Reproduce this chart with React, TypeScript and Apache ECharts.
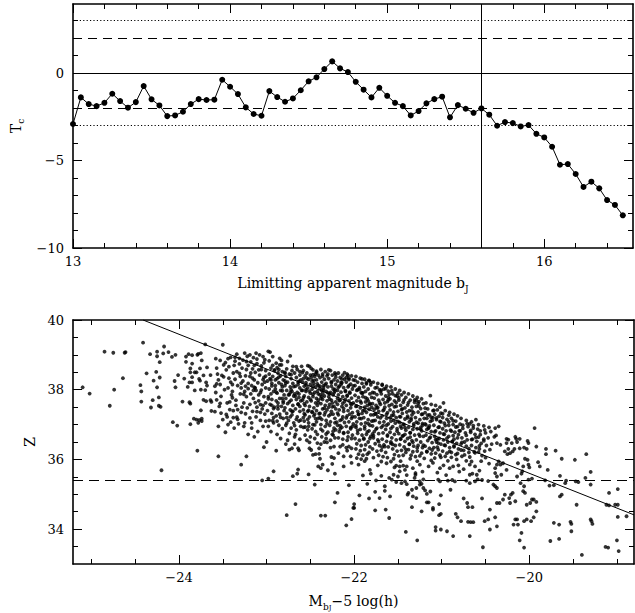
import React, { useEffect, useRef } from 'react';
import * as echarts from 'echarts';

// ---------- Top panel data ----------
const magnitudes = [
  13.0, 13.05, 13.1, 13.15, 13.2, 13.25, 13.3, 13.35, 13.4, 13.45, 13.5, 13.55, 13.6, 13.65, 13.7, 13.75,
  13.8, 13.85, 13.9, 13.95, 14.0, 14.05, 14.1, 14.15, 14.2, 14.25, 14.3, 14.35, 14.4, 14.45, 14.5, 14.55,
  14.6, 14.65, 14.7, 14.75, 14.8, 14.85, 14.9, 14.95, 15.0, 15.05, 15.1, 15.15, 15.2, 15.25, 15.3, 15.35,
  15.4, 15.45, 15.5, 15.55, 15.6, 15.65, 15.7, 15.75, 15.8, 15.85, 15.9, 15.95, 16.0, 16.05, 16.1, 16.15,
  16.2, 16.25, 16.3, 16.35, 16.4, 16.45, 16.5,
];
const tcValues = [
  -2.91, -1.39, -1.77, -1.89, -1.7, -1.18, -1.6, -1.98, -1.66, -0.74, -1.5, -1.85, -2.46, -2.42, -2.21, -1.77,
  -1.49, -1.54, -1.52, -0.38, -0.78, -1.2, -1.96, -2.34, -2.44, -1.03, -1.37, -1.64, -1.45, -0.98, -0.47, -0.24,
  0.23, 0.67, 0.27, 0.06, -0.5, -0.95, -1.39, -0.84, -1.3, -1.7, -1.89, -2.42, -2.17, -1.73, -1.49, -1.35,
  -2.53, -1.83, -2.04, -2.27, -2.02, -2.38, -3.01, -2.8, -2.86, -3.05, -2.97, -3.47, -3.68, -4.21, -5.24, -5.2,
  -5.77, -6.51, -6.21, -6.59, -7.26, -7.54, -8.13,
];
const dottedLevels = [3, -3];
const dashedLevels = [2, -2];
const solidLevels = [0];
const cutMagnitude = 15.6;

const topXMajor = [13, 14, 15, 16];
const topXMinor = [13.2, 13.4, 13.6, 13.8, 14, 14.2, 14.4, 14.6, 14.8, 15, 15.2, 15.4, 15.6, 15.8, 16, 16.2, 16.4];
const topYMajor = [-10, -5, 0];
const topYMinor = [-9, -8, -7, -6, -5, -4, -3, -2, -1, 0, 1, 2, 3];

// ---------- Bottom panel data ----------
const botXMajor = [-24, -22, -20];
const botXMinor = [-25, -24.5, -24, -23.5, -23, -22.5, -22, -21.5, -21, -20.5, -20, -19.5, -19];
const botYMajor = [34, 36, 38, 40];
const botYMinor = [33.5, 34, 34.5, 35, 35.5, 36, 36.5, 37, 37.5, 38, 38.5, 39, 39.5];
const zLimit = 35.4;
const fitLine = [[-24.41, 40.0], [-18.805, 34.41]];

// sparse bright end (M, Z pairs)
const sparseLeft = [
  -25.10, 38.07, -25.02, 37.89, -24.85, 39.09, -24.75, 39.06, -24.62, 39.06, -24.61, 39.08, -24.64, 38.33, -24.74, 38.0,
  -24.79, 37.54, -24.41, 39.35, -24.33, 39.02, -24.25, 39.09, -24.25, 38.96, -24.18, 39.04, -24.12, 39.08, -24.17, 39.24,
  -24.08, 38.94, -24.04, 39.0, -24.22, 38.79, -24.37, 38.47, -24.26, 38.51, -24.29, 38.26, -24.22, 38.35, -24.44, 38.13,
  -24.43, 37.95, -24.25, 38.07, -24.43, 37.66, -24.3, 37.7, -24.23, 37.78, -24.32, 37.49, -24.23, 37.54, -24.21, 37.51,
  -24.05, 38.25, -24.04, 38.07, -24.01, 38.42, -23.94, 38.32, -24.07, 37.07, -24.02, 36.97, -23.96, 37.66, -23.92, 38.95,
  -23.92, 38.8, -23.89, 39.02, -23.85, 38.99, -23.85, 38.75, -23.79, 39.0, -23.78, 39.03, -23.75, 39.05, -23.74, 38.84,
  -23.7, 39.3, -23.87, 38.61, -23.87, 38.5, -23.82, 38.5, -23.8, 38.5, -23.76, 38.61, -23.85, 38.36, -23.77, 38.31,
  -23.76, 38.26, -23.72, 38.41, -23.68, 38.64, -23.64, 38.42, -23.88, 38.21, -23.85, 38.21, -23.9, 38.08, -23.82, 37.98,
  -23.75, 38.0, -23.69, 38.21, -23.68, 38.12, -23.7, 37.99, -23.88, 37.64, -23.87, 37.6, -23.72, 37.71, -23.69, 37.67,
  -23.64, 37.7, -23.63, 37.65, -23.63, 37.39, -23.75, 37.41, -23.83, 37.17, -23.8, 37.14, -23.77, 37.13, -23.87, 37.01,
  -23.78, 37.05, -23.74, 37.17, -23.74, 37.1, -24.2, 35.69, -23.79, 36.25,
];

// dense cloud, M from -23.6 to -22.6
const denseLeft = [
  -23.58, 38.89, -23.53, 38.84, -23.47, 38.78, -23.46, 38.57, -23.5, 39.29, -23.59, 38.1, -23.57, 37.71, -23.54, 37.52,
  -23.52, 37.81, -23.48, 38.0, -23.45, 37.62, -23.42, 37.43, -23.5, 37.14, -23.55, 36.95, -23.44, 37.0, -23.56, 38.45,
  -23.43, 38.66, -23.41, 38.22, -23.55, 38.28, -23.49, 38.37, -23.44, 38.05, -23.58, 37.92, -23.4, 37.85, -23.52, 37.33,
  -23.47, 36.78, -23.41, 38.93, -23.57, 38.62, -23.45, 37.22, -23.53, 38.15, -23.42, 37.65,
  -23.38, 38.48, -23.34, 39.02, -23.25, 39.05, -23.22, 38.96, -23.31, 38.74, -23.28, 38.62, -23.36, 38.3, -23.24, 38.4,
  -23.33, 38.12, -23.27, 38.25, -23.21, 38.18, -23.39, 37.95, -23.3, 37.88, -23.23, 37.8, -23.35, 37.7, -23.26, 37.62,
  -23.38, 37.4, -23.29, 37.35, -23.22, 37.48, -23.33, 37.15, -23.25, 37.05, -23.37, 36.9, -23.21, 36.72, -23.31, 38.9,
  -23.27, 38.85, -23.37, 38.7, -23.23, 38.58, -23.34, 38.52, -23.29, 38.05, -23.25, 37.95, -23.35, 37.55, -23.21, 38.7,
  -23.39, 38.15, -23.32, 37.02, -23.28, 37.5, -23.24, 38.1, -23.36, 38.82, -23.3, 38.38, -23.26, 36.95, -23.38, 37.2,
  -23.12, 39.05, -23.08, 39.0, -23.19, 39.0, -23.15, 38.92, -23.04, 38.95, -23.02, 38.86, -23.18, 38.8, -23.11, 38.75,
  -23.06, 38.68, -23.16, 38.6, -23.01, 38.55, -23.13, 38.5, -23.08, 38.42, -23.19, 38.38, -23.03, 38.35, -23.14, 38.28,
  -23.1, 38.2, -23.05, 38.15, -23.17, 38.12, -23.01, 38.05, -23.12, 37.98, -23.07, 37.92, -23.18, 37.88, -23.03, 37.8,
  -23.15, 37.75, -23.09, 37.68, -23.01, 37.62, -23.19, 37.58, -23.11, 37.5, -23.05, 37.45, -23.16, 37.38, -23.02, 37.3,
  -23.12, 37.22, -23.07, 37.12, -23.17, 37.05, -23.04, 36.95, -23.1, 36.8, -23.14, 36.65, -23.06, 38.58, -23.13, 38.05,
  -23.09, 37.85, -23.02, 38.22, -23.18, 38.48, -23.07, 37.35, -23.15, 37.98, -23.11, 38.88, -23.04, 37.55, -23.17, 36.9,
  -23.01, 37.1, -23.14, 38.7,
  -22.96, 39.08, -22.98, 39.1, -22.93, 38.95, -22.89, 38.76, -22.85, 38.71, -22.83, 38.84, -22.95, 38.62, -22.91, 38.55,
  -22.87, 38.48, -22.82, 38.52, -22.97, 38.45, -22.93, 38.38, -22.88, 38.32, -22.84, 38.4, -22.81, 38.28, -22.99, 38.25,
  -22.94, 38.18, -22.9, 38.12, -22.86, 38.2, -22.82, 38.08, -22.97, 38.02, -22.92, 37.95, -22.88, 37.9, -22.84, 37.98,
  -22.8, 37.85, -22.98, 37.8, -22.94, 37.72, -22.89, 37.68, -22.85, 37.75, -22.81, 37.62, -22.96, 37.58, -22.91, 37.5,
  -22.87, 37.45, -22.83, 37.52, -22.99, 37.4, -22.94, 37.32, -22.89, 37.25, -22.85, 37.3, -22.81, 37.18, -22.97, 37.12,
  -22.92, 37.05, -22.86, 36.98, -22.82, 36.88, -22.95, 36.8, -22.88, 36.72, -22.84, 36.6, -22.93, 38.7, -22.86, 38.58,
  -22.9, 38.28, -22.83, 38.15, -22.95, 37.88, -22.87, 37.62, -22.8, 37.4, -22.92, 37.2, -22.98, 36.95, -22.85, 38.9,
  -22.9, 38.02, -22.82, 37.75, -22.94, 37.55, -22.88, 37.1, -22.96, 38.32,
  -22.73, 38.97, -22.7, 38.67, -22.77, 38.6, -22.65, 38.58, -22.79, 38.5, -22.74, 38.45, -22.68, 38.48, -22.62, 38.42,
  -22.78, 38.38, -22.72, 38.32, -22.66, 38.35, -22.61, 38.28, -22.76, 38.22, -22.7, 38.18, -22.64, 38.22, -22.79, 38.12,
  -22.73, 38.08, -22.67, 38.1, -22.62, 38.05, -22.77, 37.98, -22.71, 37.95, -22.65, 37.92, -22.6, 37.98, -22.75, 37.85,
  -22.69, 37.82, -22.63, 37.88, -22.78, 37.75, -22.72, 37.7, -22.66, 37.72, -22.61, 37.68, -22.76, 37.6, -22.7, 37.55,
  -22.64, 37.58, -22.79, 37.48, -22.73, 37.42, -22.67, 37.45, -22.62, 37.38, -22.77, 37.32, -22.71, 37.28, -22.65, 37.22,
  -22.75, 37.12, -22.69, 37.05, -22.63, 37.1, -22.78, 36.98, -22.72, 36.9, -22.66, 36.85, -22.61, 36.95, -22.74, 36.75,
  -22.68, 36.65, -22.62, 36.58, -22.76, 36.55, -22.71, 38.55, -22.64, 38.15, -22.68, 37.88, -22.74, 37.65, -22.62, 37.52,
  -22.7, 37.38, -22.66, 37.15, -22.6, 38.67, -22.79, 38.25, -22.73, 37.92, -22.63, 37.78, -22.77, 37.2, -22.67, 36.72,
  -22.72, 38.0,
];

// dense cloud, M from -22.6 to -21.6
const denseMid = [
  -22.51, 38.67, -22.47, 38.57, -22.58, 38.55, -22.54, 38.48, -22.43, 38.5, -22.56, 38.4, -22.5, 38.42, -22.45, 38.38,
  -22.41, 38.42, -22.58, 38.32, -22.52, 38.3, -22.48, 38.25, -22.43, 38.28, -22.55, 38.2, -22.5, 38.15, -22.46, 38.18,
  -22.41, 38.12, -22.57, 38.1, -22.53, 38.05, -22.48, 38.02, -22.44, 38.08, -22.59, 37.98, -22.55, 37.95, -22.5, 37.9,
  -22.45, 37.92, -22.41, 37.88, -22.57, 37.82, -22.52, 37.78, -22.47, 37.8, -22.43, 37.75, -22.59, 37.7, -22.54, 37.65,
  -22.49, 37.68, -22.44, 37.62, -22.56, 37.55, -22.51, 37.52, -22.46, 37.48, -22.42, 37.55, -22.58, 37.42, -22.53, 37.38,
  -22.48, 37.35, -22.43, 37.4, -22.56, 37.28, -22.51, 37.22, -22.46, 37.25, -22.41, 37.18, -22.57, 37.1, -22.52, 37.05,
  -22.47, 37.0, -22.43, 37.08, -22.58, 36.92, -22.53, 36.85, -22.48, 36.88, -22.44, 36.8, -22.56, 36.7, -22.5, 36.65,
  -22.45, 36.6, -22.42, 36.72, -22.54, 36.55, -22.49, 38.35, -22.55, 38.0, -22.42, 37.95, -22.5, 37.72, -22.57, 37.6,
  -22.45, 37.3, -22.53, 37.15, -22.47, 38.1, -22.59, 38.22, -22.44, 38.45, -22.52, 36.95, -22.41, 37.7, -22.58, 37.2,
  -22.38, 38.58, -22.33, 38.52, -22.27, 38.55, -22.22, 38.48, -22.36, 38.45, -22.31, 38.4, -22.25, 38.42, -22.21, 38.36,
  -22.39, 38.35, -22.34, 38.3, -22.29, 38.32, -22.23, 38.28, -22.37, 38.22, -22.32, 38.18, -22.26, 38.2, -22.21, 38.15,
  -22.39, 38.1, -22.35, 38.05, -22.3, 38.08, -22.24, 38.02, -22.37, 37.98, -22.32, 37.95, -22.27, 37.92, -22.22, 37.96,
  -22.39, 37.85, -22.34, 37.82, -22.29, 37.8, -22.24, 37.85, -22.36, 37.72, -22.31, 37.68, -22.26, 37.7, -22.21, 37.65,
  -22.38, 37.6, -22.33, 37.55, -22.28, 37.58, -22.23, 37.52, -22.36, 37.45, -22.31, 37.42, -22.26, 37.38, -22.21, 37.45,
  -22.39, 37.32, -22.34, 37.28, -22.29, 37.25, -22.24, 37.3, -22.37, 37.15, -22.32, 37.12, -22.27, 37.08, -22.22, 37.18,
  -22.38, 37.0, -22.33, 36.95, -22.28, 36.98, -22.23, 36.9, -22.36, 36.82, -22.3, 36.78, -22.25, 36.72, -22.21, 36.85,
  -22.37, 36.65, -22.32, 36.6, -22.27, 36.55, -22.22, 36.62, -22.35, 38.12, -22.28, 37.88, -22.38, 37.75, -22.25, 37.62,
  -22.33, 37.35, -22.22, 37.05, -22.3, 38.45, -22.36, 37.9, -22.26, 38.1, -22.39, 37.2, -22.24, 36.7, -22.34, 36.5,
  -22.29, 37.5,
  -22.18, 38.48, -22.13, 38.42, -22.08, 38.45, -22.03, 38.4, -22.16, 38.35, -22.11, 38.3, -22.06, 38.33, -22.01, 38.28,
  -22.19, 38.25, -22.14, 38.2, -22.09, 38.22, -22.04, 38.16, -22.17, 38.1, -22.12, 38.06, -22.07, 38.08, -22.02, 38.02,
  -22.19, 37.98, -22.15, 37.93, -22.1, 37.95, -22.05, 37.9, -22.18, 37.85, -22.13, 37.8, -22.08, 37.82, -22.03, 37.76,
  -22.16, 37.7, -22.11, 37.66, -22.06, 37.68, -22.01, 37.62, -22.19, 37.58, -22.14, 37.52, -22.09, 37.55, -22.04, 37.48,
  -22.17, 37.42, -22.12, 37.38, -22.07, 37.4, -22.02, 37.34, -22.18, 37.28, -22.13, 37.22, -22.08, 37.25, -22.03, 37.18,
  -22.16, 37.12, -22.11, 37.06, -22.06, 37.08, -22.01, 37.02, -22.19, 36.98, -22.14, 36.92, -22.09, 36.95, -22.04, 36.88,
  -22.17, 36.8, -22.12, 36.75, -22.07, 36.78, -22.02, 36.7, -22.18, 36.62, -22.13, 36.58, -22.08, 36.55, -22.03, 36.6,
  -22.15, 38.15, -22.1, 37.72, -22.05, 37.3, -22.16, 36.88, -22.06, 38.12, -22.12, 37.46, -22.02, 36.95, -22.19, 37.75,
  -22.09, 38.35, -22.04, 37.6, -22.14, 37.15, -22.07, 36.65,
  -21.98, 38.38, -21.93, 38.33, -21.88, 38.3, -21.83, 38.26, -21.96, 38.22, -21.91, 38.18, -21.86, 38.2, -21.81, 38.14,
  -21.99, 38.12, -21.94, 38.06, -21.89, 38.08, -21.84, 38.02, -21.97, 37.98, -21.92, 37.92, -21.87, 37.95, -21.82, 37.88,
  -21.99, 37.84, -21.95, 37.78, -21.9, 37.8, -21.85, 37.74, -21.8, 37.78, -21.97, 37.68, -21.92, 37.62, -21.87, 37.65,
  -21.82, 37.58, -21.98, 37.52, -21.93, 37.48, -21.88, 37.5, -21.83, 37.44, -21.96, 37.38, -21.91, 37.32, -21.86, 37.35,
  -21.81, 37.28, -21.99, 37.22, -21.94, 37.18, -21.89, 37.2, -21.84, 37.14, -21.97, 37.08, -21.92, 37.02, -21.87, 37.05,
  -21.82, 36.98, -21.98, 36.92, -21.93, 36.86, -21.88, 36.88, -21.83, 36.82, -21.96, 36.75, -21.91, 36.7, -21.86, 36.72,
  -21.81, 36.66, -21.99, 36.6, -21.94, 36.55, -21.89, 36.58, -21.84, 36.5, -21.97, 36.45, -21.92, 36.4, -21.87, 36.42,
  -21.82, 36.36, -21.98, 36.3, -21.93, 36.25, -21.88, 36.28, -21.83, 36.2, -21.95, 36.15, -21.9, 36.12, -21.85, 36.15,
  -21.91, 37.9, -21.85, 37.55, -21.95, 37.3, -21.88, 36.95, -21.8, 37.1, -21.96, 38.0, -21.84, 37.68, -21.9, 37.4,
  -21.82, 36.6,
  -21.78, 38.22, -21.73, 38.18, -21.68, 38.15, -21.63, 38.1, -21.76, 38.05, -21.71, 38.0, -21.66, 38.02, -21.61, 37.96,
  -21.79, 37.92, -21.74, 37.86, -21.69, 37.88, -21.64, 37.82, -21.77, 37.76, -21.72, 37.7, -21.67, 37.72, -21.62, 37.66,
  -21.79, 37.6, -21.75, 37.55, -21.7, 37.58, -21.65, 37.5, -21.6, 37.54, -21.77, 37.44, -21.72, 37.38, -21.67, 37.4,
  -21.62, 37.34, -21.78, 37.28, -21.73, 37.22, -21.68, 37.25, -21.63, 37.18, -21.76, 37.12, -21.71, 37.06, -21.66, 37.08,
  -21.61, 37.02, -21.79, 36.96, -21.74, 36.9, -21.69, 36.92, -21.64, 36.86, -21.77, 36.8, -21.72, 36.74, -21.67, 36.76,
  -21.62, 36.7, -21.78, 36.62, -21.73, 36.56, -21.68, 36.58, -21.63, 36.52, -21.76, 36.45, -21.71, 36.4, -21.66, 36.42,
  -21.61, 36.36, -21.79, 36.3, -21.74, 36.24, -21.69, 36.26, -21.64, 36.2, -21.72, 36.12, -21.67, 36.08, -21.7, 37.95,
  -21.65, 37.62, -21.75, 37.3, -21.63, 36.98, -21.78, 36.68, -21.68, 36.35, -21.61, 37.78, -21.74, 37.48,
];

// dense cloud, M from -21.6 to -20.42
const denseRight = [
  -21.58, 38.08, -21.53, 38.02, -21.48, 37.98, -21.43, 37.92, -21.56, 37.88, -21.51, 37.82, -21.46, 37.85, -21.41, 37.78,
  -21.59, 37.74, -21.54, 37.68, -21.49, 37.7, -21.44, 37.64, -21.57, 37.58, -21.52, 37.52, -21.47, 37.55, -21.42, 37.48,
  -21.59, 37.42, -21.55, 37.36, -21.5, 37.38, -21.45, 37.32, -21.4, 37.36, -21.57, 37.26, -21.52, 37.2, -21.47, 37.22,
  -21.42, 37.16, -21.58, 37.1, -21.53, 37.04, -21.48, 37.06, -21.43, 37.0, -21.56, 36.94, -21.51, 36.88, -21.46, 36.9,
  -21.41, 36.84, -21.59, 36.78, -21.54, 36.72, -21.49, 36.74, -21.44, 36.68, -21.57, 36.62, -21.52, 36.56, -21.47, 36.58,
  -21.42, 36.52, -21.58, 36.46, -21.53, 36.4, -21.48, 36.42, -21.43, 36.36, -21.56, 36.3, -21.51, 36.24, -21.46, 36.26,
  -21.41, 36.2, -21.54, 36.14, -21.49, 36.1, -21.44, 36.12, -21.5, 37.9, -21.45, 37.45, -21.55, 37.12, -21.42, 36.72,
  -21.58, 36.5, -21.47, 36.95,
  -21.38, 37.88, -21.33, 37.82, -21.28, 37.78, -21.23, 37.74, -21.36, 37.7, -21.31, 37.64, -21.26, 37.66, -21.21, 37.6,
  -21.39, 37.56, -21.34, 37.5, -21.29, 37.52, -21.24, 37.46, -21.37, 37.4, -21.32, 37.34, -21.27, 37.36, -21.22, 37.3,
  -21.39, 37.24, -21.35, 37.18, -21.3, 37.2, -21.25, 37.14, -21.2, 37.18, -21.37, 37.08, -21.32, 37.02, -21.27, 37.04,
  -21.22, 36.98, -21.38, 36.92, -21.33, 36.86, -21.28, 36.88, -21.23, 36.82, -21.36, 36.76, -21.31, 36.7, -21.26, 36.72,
  -21.21, 36.66, -21.39, 36.6, -21.34, 36.54, -21.29, 36.56, -21.24, 36.5, -21.37, 36.44, -21.32, 36.38, -21.27, 36.4,
  -21.22, 36.34, -21.38, 36.28, -21.33, 36.22, -21.28, 36.24, -21.23, 36.18, -21.35, 36.12, -21.3, 36.08, -21.25, 36.1,
  -21.29, 37.7, -21.34, 37.28, -21.24, 36.92, -21.36, 36.64,
  -21.13, 37.83, -21.18, 37.62, -21.12, 37.58, -21.07, 37.55, -21.02, 37.5, -21.16, 37.45, -21.1, 37.4, -21.05, 37.42,
  -21.19, 37.34, -21.14, 37.28, -21.08, 37.3, -21.03, 37.24, -21.17, 37.18, -21.11, 37.12, -21.06, 37.14, -21.01, 37.08,
  -21.19, 37.02, -21.14, 36.96, -21.09, 36.98, -21.04, 36.92, -21.17, 36.86, -21.12, 36.8, -21.07, 36.82, -21.02, 36.76,
  -21.18, 36.7, -21.13, 36.64, -21.08, 36.66, -21.03, 36.6, -21.16, 36.54, -21.11, 36.48, -21.06, 36.5, -21.01, 36.44,
  -21.19, 36.38, -21.14, 36.32, -21.09, 36.34, -21.04, 36.28, -21.17, 36.22, -21.12, 36.16, -21.07, 36.18, -21.02, 36.12,
  -21.1, 37.2, -21.15, 36.9, -21.05, 36.58,
  -20.98, 37.62, -20.96, 37.4, -20.91, 37.35, -20.86, 37.3, -20.82, 37.25, -20.99, 37.2, -20.94, 37.15, -20.89, 37.18,
  -20.84, 37.1, -20.97, 37.04, -20.92, 36.98, -20.87, 37.0, -20.82, 36.94, -20.99, 36.88, -20.95, 36.82, -20.9, 36.84,
  -20.85, 36.78, -20.8, 36.82, -20.97, 36.72, -20.92, 36.66, -20.87, 36.68, -20.82, 36.62, -20.98, 36.56, -20.93, 36.5,
  -20.88, 36.52, -20.83, 36.46, -20.96, 36.4, -20.91, 36.34, -20.86, 36.36, -20.81, 36.3, -20.99, 36.24, -20.94, 36.18,
  -20.89, 36.2, -20.84, 36.14, -20.92, 37.08, -20.86, 36.58,
  -20.78, 37.18, -20.72, 37.12, -20.66, 37.08, -20.61, 37.14, -20.76, 36.98, -20.7, 36.94, -20.64, 36.9, -20.79, 36.82,
  -20.73, 36.76, -20.67, 36.78, -20.62, 36.72, -20.77, 36.62, -20.71, 36.56, -20.65, 36.58, -20.6, 36.52, -20.78, 36.44,
  -20.72, 36.38, -20.66, 36.4, -20.61, 36.34, -20.75, 36.26, -20.69, 36.2, -20.63, 36.22, -20.68, 37.02, -20.74, 36.5,
  -20.58, 37.0, -20.52, 36.96, -20.46, 36.92, -20.56, 36.82, -20.5, 36.76, -20.44, 36.8, -20.58, 36.64, -20.52, 36.58,
  -20.47, 36.62, -20.55, 36.46, -20.49, 36.4, -20.43, 36.44, -20.57, 36.3, -20.51, 36.24, -20.45, 36.28,
];

// extra points read in the darkest part of the cloud
const denseCore = [
  -22.97, 38.83, -22.94, 38.11, -22.92, 37.46, -22.91, 38.57, -22.89, 37.93, -22.86, 38.36, -22.84, 37.21, -22.83, 38.71,
  -22.81, 37.67, -22.78, 38.19, -22.77, 37.04, -22.76, 38.81, -22.74, 37.86, -22.72, 38.43, -22.71, 37.38, -22.69, 38.09,
  -22.68, 36.97, -22.66, 38.66, -22.64, 37.59, -22.63, 38.24, -22.61, 37.13, -22.59, 38.49, -22.58, 37.77, -22.56, 36.93,
  -22.55, 38.14, -22.53, 38.69, -22.52, 37.41, -22.51, 37.96, -22.98, 37.74, -22.95, 38.28, -22.88, 38.63, -22.82, 37.97,
  -22.79, 38.47, -22.73, 37.22, -22.67, 37.82, -22.62, 38.52, -22.57, 37.31, -22.54, 38.33, -22.93, 37.11, -22.87, 37.53,
  -22.49, 38.61, -22.47, 37.87, -22.46, 38.27, -22.44, 37.17, -22.43, 38.53, -22.41, 37.63, -22.39, 38.04, -22.38, 36.87,
  -22.36, 38.39, -22.34, 37.47, -22.33, 38.14, -22.31, 37.03, -22.29, 38.57, -22.28, 37.73, -22.26, 38.23, -22.24, 36.81,
  -22.23, 37.91, -22.21, 38.44, -22.19, 37.33, -22.18, 38.07, -22.16, 36.97, -22.14, 38.31, -22.13, 37.61, -22.11, 38.49,
  -22.09, 37.19, -22.08, 37.84, -22.06, 38.29, -22.04, 36.91, -22.03, 37.57, -22.01, 38.11, -22.48, 37.37, -22.45, 36.99,
  -22.42, 38.17, -22.37, 37.81, -22.32, 36.73, -22.27, 37.29, -22.22, 38.01, -22.17, 37.69, -22.12, 36.77, -22.07, 38.41,
  -22.02, 37.23, -22.47, 38.43, -22.35, 37.99, -22.25, 37.51, -22.15, 38.21, -22.05, 37.93, -22.4, 37.31, -22.3, 37.91,
  -22.2, 37.07, -22.1, 37.97,
  -21.99, 38.27, -21.97, 37.53, -21.96, 36.83, -21.94, 38.01, -21.92, 37.17, -21.91, 38.31, -21.89, 36.61, -21.87, 37.77,
  -21.86, 38.17, -21.84, 37.03, -21.82, 37.61, -21.81, 38.21, -21.79, 36.73, -21.77, 37.91, -21.76, 37.31, -21.74, 38.07,
  -21.72, 36.51, -21.71, 37.63, -21.69, 37.99, -21.67, 36.97, -21.66, 37.43, -21.64, 38.03, -21.62, 36.67, -21.61, 37.71,
  -21.59, 37.19, -21.57, 37.97, -21.56, 36.43, -21.54, 37.51, -21.53, 37.83, -21.51, 36.81, -21.98, 36.97, -21.93, 37.67,
  -21.88, 37.41, -21.83, 38.27, -21.78, 37.11, -21.73, 37.49, -21.68, 38.13, -21.63, 37.29, -21.58, 36.89, -21.52, 37.63,
  -21.95, 37.29, -21.85, 36.79, -21.75, 36.87, -21.65, 36.37, -21.55, 37.27, -21.9, 37.91, -21.8, 37.49, -21.7, 37.19,
  -21.6, 37.87, -21.5, 37.09,
  -21.49, 37.77, -21.47, 36.59, -21.46, 37.43, -21.44, 37.01, -21.43, 37.71, -21.41, 36.29, -21.39, 37.19, -21.38, 37.63,
  -21.36, 36.77, -21.34, 37.39, -21.33, 36.49, -21.31, 37.71, -21.29, 37.07, -21.28, 36.33, -21.26, 37.53, -21.24, 36.87,
  -21.23, 37.29, -21.21, 36.41, -21.19, 37.47, -21.18, 36.99, -21.16, 37.27, -21.14, 36.61, -21.13, 37.09, -21.11, 36.27,
  -21.09, 37.41, -21.08, 36.79, -21.06, 37.19, -21.04, 36.47, -21.03, 36.93, -21.01, 37.33, -21.48, 37.23, -21.42, 36.91,
  -21.37, 36.43, -21.32, 36.97, -21.27, 37.61, -21.22, 37.03, -21.17, 36.23, -21.12, 37.21, -21.07, 36.57, -21.02, 37.09,
  -21.45, 36.67, -21.35, 37.13, -21.25, 36.67, -21.15, 36.91, -21.05, 36.35,
  -20.99, 37.31, -20.97, 36.41, -20.96, 36.97, -20.94, 36.61, -20.92, 37.27, -20.91, 36.23, -20.89, 36.81, -20.87, 37.11,
  -20.86, 36.39, -20.84, 36.93, -20.82, 36.17, -20.81, 36.71, -20.79, 37.01, -20.77, 36.49, -20.76, 36.89, -20.74, 36.13,
  -20.72, 36.69, -20.71, 37.03, -20.69, 36.31, -20.67, 36.83, -20.66, 36.57, -20.64, 36.97, -20.62, 36.19, -20.61, 36.63,
  -20.59, 36.87, -20.57, 36.39, -20.56, 36.71, -20.54, 36.11, -20.52, 36.53, -20.51, 36.85, -20.98, 36.73, -20.88, 36.51,
  -20.78, 36.27, -20.68, 36.07, -20.58, 36.21,
  -23.57, 38.17, -23.53, 37.61, -23.49, 38.71, -23.46, 37.29, -23.43, 38.33, -23.39, 37.77, -23.36, 38.93, -23.33, 37.43,
  -23.29, 38.19, -23.26, 37.87, -23.23, 38.81, -23.19, 37.19, -23.16, 38.33, -23.13, 37.63, -23.09, 38.57, -23.06, 37.99,
  -23.03, 38.77, -23.59, 37.37, -23.51, 38.41, -23.41, 37.07, -23.31, 38.47, -23.21, 38.03, -23.11, 37.37, -23.04, 38.29,
  -23.44, 38.89, -23.34, 37.21, -23.24, 37.31, -23.14, 38.07, -23.07, 37.57, -23.01, 38.39,
];

// faint tail below the cloud
const sparseLow = [
  -23.55, 36.09, -23.23, 36.09, -23.29, 35.85, -23.03, 36.35, -23.0, 36.5, -22.89, 36.25, -22.92, 35.66, -23.05, 35.4,
  -22.98, 35.45, -22.78, 36.44, -22.74, 36.28, -22.71, 36.32, -22.68, 36.44, -22.64, 36.32, -22.63, 36.26, -22.7, 35.52,
  -22.65, 35.59, -22.64, 35.71, -22.52, 35.57, -22.51, 36.32, -22.49, 36.27, -22.51, 36.49, -22.47, 36.13, -22.44, 36.15,
  -22.4, 36.16, -22.4, 36.32, -22.42, 36.47, -22.38, 36.44, -22.39, 36.02, -22.41, 35.8, -22.38, 35.75, -22.36, 35.85,
  -22.45, 35.28, -22.31, 36.49, -22.27, 36.34, -22.23, 36.37, -22.26, 36.07, -22.23, 36.04, -22.3, 35.69, -22.25, 35.87,
  -22.22, 35.59, -22.18, 36.18, -22.16, 36.37, -22.13, 36.42, -22.12, 36.09, -22.12, 35.8, -22.09, 36.34, -22.08, 36.25,
  -22.06, 36.37, -22.03, 36.32, -22.04, 36.09, -22.03, 35.9, -22.06, 35.26, -22.19, 35.04, -22.22, 34.77, -22.67, 34.72,
  -22.77, 34.4, -22.38, 34.39, -22.33, 34.39, -22.03, 34.29, -22.09, 34.11, -22.01, 34.61,
  -21.97, 36.04, -21.92, 36.01, -21.86, 36.02, -21.82, 35.7, -21.81, 35.59, -21.9, 35.54, -21.94, 34.97, -22.0, 34.72,
  -22.0, 34.61, -21.83, 34.88, -21.76, 35.07, -21.76, 34.54, -21.71, 34.89, -21.65, 35.1, -21.65, 35.23, -21.64, 34.56,
  -21.6, 34.32, -21.59, 34.94, -21.69, 35.53, -21.73, 35.83, -21.69, 35.94, -21.63, 35.89, -21.58, 35.94, -21.54, 35.77,
  -21.52, 35.82, -21.48, 35.8, -21.44, 35.82, -21.4, 35.8, -21.48, 35.66, -21.42, 35.7, -21.55, 35.56, -21.5, 35.51,
  -21.6, 35.47, -21.57, 35.42, -21.52, 35.35, -21.46, 35.32, -21.42, 35.37, -21.4, 35.29, -21.31, 35.47, -21.3, 35.56,
  -21.3, 35.61, -21.38, 35.04, -21.39, 34.99, -21.34, 35.13, -21.29, 35.18, -21.25, 35.28, -21.23, 35.3, -21.21, 35.18,
  -21.19, 35.11, -21.17, 35.01, -21.29, 34.89, -21.33, 34.94, -21.34, 34.63, -21.23, 34.51, -21.13, 35.08, -21.17, 34.77,
  -21.15, 34.77, -21.1, 34.61, -21.1, 34.56, -21.01, 34.97, -21.03, 34.72, -21.01, 34.44, -21.03, 34.4, -21.07, 34.06,
  -21.07, 33.96, -21.01, 33.99, -20.94, 33.94, -20.87, 33.8, -21.28, 33.68, -21.41, 33.92, -21.33, 35.75, -21.25, 35.85,
  -21.15, 35.8, -21.1, 35.9, -21.02, 35.75, -20.98, 35.83, -20.93, 35.96, -20.91, 35.75, -20.87, 35.8, -20.81, 35.83,
  -20.89, 36.06, -20.83, 36.0, -20.77, 36.09, -20.72, 35.96, -20.68, 35.85, -20.66, 35.94, -21.08, 36.04, -21.01, 36.06,
  -20.96, 36.09, -20.68, 35.56, -20.65, 35.59, -20.6, 35.56, -20.57, 35.68, -20.9, 35.13, -20.75, 34.88, -20.71, 34.75,
  -20.7, 34.63, -20.65, 34.63, -20.84, 34.44, -20.82, 34.34, -20.78, 34.23, -20.7, 34.21, -20.67, 34.2, -20.64, 34.2,
  -20.68, 33.8, -20.53, 33.48, -20.54, 34.88, -20.51, 34.23, -20.47, 34.28, -20.45, 34.56, -20.45, 33.99, -21.25, 35.37,
  -21.21, 35.43, -21.04, 35.42, -21.02, 35.37, -20.93, 35.39, -20.88, 35.41, -20.85, 35.37, -20.72, 35.39, -20.68, 35.32,
  -20.62, 35.37, -20.59, 35.43, -20.54, 35.41, -20.47, 35.38,
  -21.95, 35.85, -21.88, 35.95, -21.78, 36.05, -21.62, 36.05, -21.55, 36.02, -21.47, 35.95, -21.36, 36.02, -21.28, 35.95,
  -21.2, 36.03, -21.12, 35.97, -21.05, 35.62, -20.95, 35.55, -20.8, 35.65, -20.75, 35.72, -20.62, 35.8, -20.55, 35.95,
  -20.5, 36.05, -20.46, 35.88, -21.4, 35.55, -21.22, 35.65, -21.75, 35.4, -21.85, 35.3,
];

// faint end
const sparseRight = [
  -20.39, 36.9, -20.35, 36.95, -20.38, 36.69, -20.4, 36.65, -20.26, 36.59, -20.24, 36.57, -20.16, 36.65, -20.15, 36.59,
  -20.11, 36.59, -20.02, 36.53, -19.94, 36.9,
  -20.37, 36.47, -20.33, 36.42, -20.26, 36.47, -20.24, 36.3, -20.2, 36.47, -20.17, 36.3, -20.14, 36.5, -20.11, 36.32,
  -20.06, 36.34, -20.03, 36.3, -20.01, 36.47, -20.35, 35.94, -20.37, 35.85, -20.39, 35.75, -20.33, 35.85, -20.3, 35.89,
  -20.26, 35.7, -20.32, 35.56, -20.37, 35.51, -20.39, 35.61, -20.28, 36.23, -20.22, 36.18, -20.25, 36.15, -20.19, 36.23,
  -20.05, 36.02, -20.02, 35.99, -20.01, 35.85, -20.0, 35.77, -20.07, 35.8, -20.13, 35.89, -20.08, 35.66, -20.09, 35.59,
  -19.92, 36.37, -19.81, 36.3, -19.81, 36.15, -19.7, 36.25, -19.63, 36.02, -19.48, 35.99, -19.35, 36.15, -19.88, 35.8,
  -19.79, 35.7, -19.9, 35.92, -20.14, 35.51, -20.1, 35.32, -20.06, 35.23, -20.01, 35.42, -19.97, 35.45, -19.65, 35.53,
  -19.59, 35.32, -19.58, 35.39, -19.63, 34.99, -19.65, 34.94, -19.77, 35.25, -19.72, 35.26, -19.82, 35.4, -19.47, 35.37,
  -19.44, 35.35, -19.36, 35.47, -19.3, 35.64, -19.3, 35.28, -20.41, 35.28, -20.39, 35.23, -20.37, 35.18, -20.37, 34.75,
  -20.34, 34.75, -20.3, 34.85, -20.28, 34.99, -20.23, 34.89, -20.21, 34.99, -20.19, 35.04, -20.16, 34.8, -20.22, 34.75,
  -20.07, 35.09, -20.05, 35.04, -20.03, 34.7, -19.99, 34.75, -19.97, 34.85, -19.95, 34.85, -19.92, 34.78, -20.39, 34.34,
  -20.37, 34.08, -20.18, 34.13, -20.16, 34.28, -20.14, 34.28, -20.13, 34.13, -20.09, 33.89, -20.06, 34.23, -20.03, 34.28,
  -19.98, 34.23, -19.95, 34.34, -19.92, 34.51, -20.11, 33.68, -20.06, 33.47, -19.72, 34.18, -19.66, 34.13, -19.53, 34.21,
  -19.52, 34.15, -19.52, 33.94, -19.76, 33.66, -19.66, 33.72, -19.46, 34.7, -19.3, 34.28, -19.29, 34.23, -19.28, 34.15,
  -19.4, 33.26, -19.13, 33.49, -19.1, 33.47, -19.0, 33.68, -18.98, 33.37, -19.09, 35.04, -18.99, 35.15, -19.12, 34.7,
  -19.09, 34.68, -19.02, 34.7, -18.99, 34.7, -18.99, 34.35, -18.89, 34.37,
];

const FONT = "'DejaVu Serif', serif";
const BLACK = '#000';

function toPairs(flat: number[]): number[][] {
  const out: number[][] = [];
  for (let i = 0; i + 1 < flat.length; i += 2) out.push([flat[i], flat[i + 1]]);
  return out;
}

const minus = (v: number) => String(v).replace('-', '\u2212');

function axisPair(kind: 'x' | 'y', grid: number, min: number, max: number, major: number[], minor: number[],
  label: boolean, name?: string, nameGap?: number, rich?: any) {
  const sideA = kind === 'x' ? 'bottom' : 'left';
  const sideB = kind === 'x' ? 'top' : 'right';
  const base = {
    type: 'value', gridIndex: grid, min, max, splitLine: { show: false },
    axisLine: { show: false, onZero: false },
  };
  const majorTick = { show: true, inside: true, length: 9, customValues: major, lineStyle: { color: BLACK, width: 1 } };
  const minorTick = { show: true, inside: true, length: 5, customValues: minor, lineStyle: { color: BLACK, width: 1 } };
  const main: any = {
    ...base, position: sideA,
    axisLine: { show: true, onZero: false, lineStyle: { color: BLACK, width: 1.6 } },
    axisTick: majorTick,
    axisLabel: label ? {
      show: true, customValues: major, formatter: minus, color: BLACK, fontFamily: FONT, fontSize: 13,
      margin: kind === 'x' ? 7 : 9,
    } : { show: false },
  };
  if (name) {
    main.name = name;
    main.nameLocation = 'middle';
    main.nameGap = nameGap;
    if (kind === 'y') main.nameRotate = 90;
    main.nameTextStyle = { color: BLACK, fontFamily: FONT, fontSize: 14, rich };
  }
  return [
    main,
    { ...base, position: sideA, axisTick: minorTick, axisLabel: { show: false } },
    { ...base, position: sideB, axisLine: { show: true, onZero: false, lineStyle: { color: BLACK, width: 1.6 } }, axisTick: majorTick, axisLabel: { show: false } },
    { ...base, position: sideB, axisTick: minorTick, axisLabel: { show: false } },
  ];
}

const rich = {
  a: { fontFamily: FONT, fontSize: 14, lineHeight: 20, color: BLACK },
  s: { fontFamily: FONT, fontSize: 9, lineHeight: 10, verticalAlign: 'bottom', color: BLACK },
  t: { fontFamily: FONT, fontSize: 7, lineHeight: 5, verticalAlign: 'bottom', color: BLACK },
};

export default function App() {
  const ref = useRef<HTMLDivElement>(null);
  useEffect(() => {
    document.body.style.margin = '0';
    if (!ref.current) return;
    const chart = echarts.init(ref.current, undefined, { renderer: 'svg' });

    const topLine = magnitudes.map((m, i) => [m, tcValues[i]]);
    const cloud = [
      ...toPairs(sparseLeft), ...toPairs(denseLeft), ...toPairs(denseMid), ...toPairs(denseRight),
      ...toPairs(denseCore), ...toPairs(sparseLow), ...toPairs(sparseRight),
    ];

    const dotted = { type: [1.2, 2.2], color: BLACK, width: 1 };
    const dashed = { type: [9, 6], color: BLACK, width: 1 };
    const solid = { type: 'solid', color: BLACK, width: 1 };

    const option: any = {
      animation: false,
      backgroundColor: '#fff',
      grid: [
        { left: 73, top: 4, width: 560, height: 244 },
        { left: 73, top: 320, width: 561, height: 244 },
      ],
      xAxis: [
        ...axisPair('x', 0, 13, 16.565, topXMajor, topXMinor, true,
          '{a|Limitting apparent magnitude b}{s|J}', 25, rich),
        ...axisPair('x', 1, -25.21, -18.805, botXMajor, botXMinor, true,
          '{a|M}{s|b}{t|J}{a|\u22125 log(h)}', 27, rich),
      ],
      yAxis: [
        ...axisPair('y', 0, -10, 3.95, topYMajor, topYMinor, true, '{a|T}{s|c}', 47, rich),
        ...axisPair('y', 1, 33, 40, botYMajor, botYMinor, true, '{a|Z}', 33, rich),
      ],
      series: [
        {
          type: 'line', xAxisIndex: 0, yAxisIndex: 0, data: topLine,
          symbol: 'circle', symbolSize: 6, showAllSymbol: true,
          itemStyle: { color: BLACK }, lineStyle: { color: BLACK, width: 1 },
          markLine: {
            silent: true, symbol: 'none', label: { show: false },
            data: [
              ...dottedLevels.map((v) => ({ yAxis: v, lineStyle: dotted })),
              ...dashedLevels.map((v) => ({ yAxis: v, lineStyle: dashed })),
              ...solidLevels.map((v) => ({ yAxis: v, lineStyle: solid })),
              { xAxis: cutMagnitude, lineStyle: solid },
            ],
          },
        },
        {
          type: 'scatter', xAxisIndex: 4, yAxisIndex: 4, data: cloud,
          symbol: 'circle', symbolSize: 3.8, itemStyle: { color: BLACK },
          markLine: {
            silent: true, symbol: 'none', label: { show: false },
            data: [{ yAxis: zLimit, lineStyle: { type: [10, 6], color: BLACK, width: 1 } }],
          },
        },
        {
          type: 'line', xAxisIndex: 4, yAxisIndex: 4, data: fitLine, symbol: 'none',
          lineStyle: { color: BLACK, width: 1 }, clip: true,
        },
      ],
    };
    chart.setOption(option);
    return () => chart.dispose();
  }, []);
  return <div ref={ref} style={{ position: 'absolute', left: 0, top: 0, width: 635, height: 613 }} />;
}
